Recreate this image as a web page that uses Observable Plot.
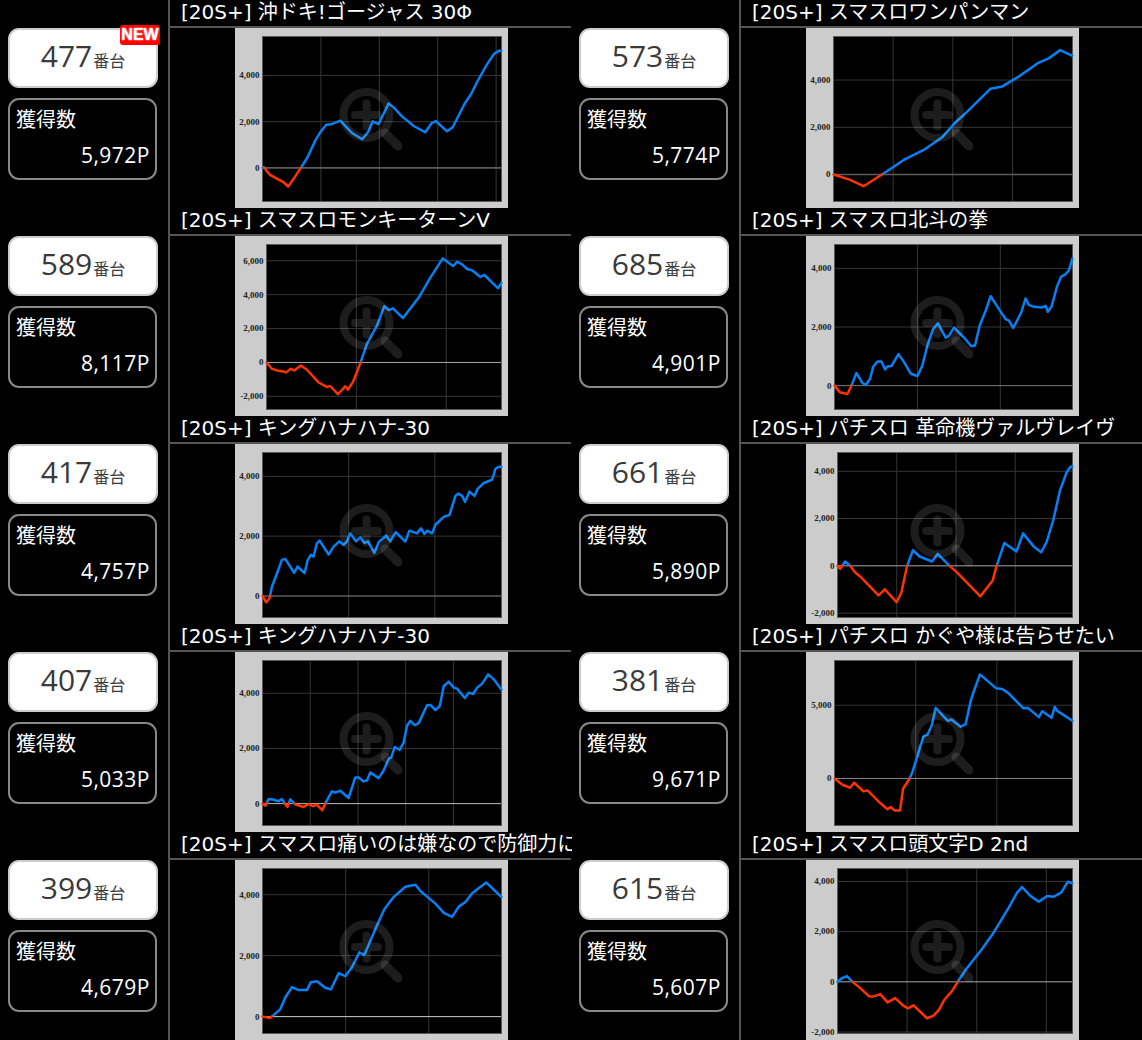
<!DOCTYPE html>
<html lang="ja">
<head>
<meta charset="utf-8">
<script src="https://cdn.jsdelivr.net/npm/d3@7"></script>
<script src="https://cdn.jsdelivr.net/npm/@observablehq/plot@0.6"></script>
<style>
html,body{margin:0;padding:0;background:#000;width:1142px;height:1040px;overflow:hidden;font-family:"Noto Sans CJK JP","Noto Sans",sans-serif;}
#page{position:relative;width:1142px;height:1040px;overflow:hidden;}
.vline{position:absolute;top:0;bottom:0;width:2px;background:#555;}
.hline{position:absolute;height:2px;background:#555;}
.title{position:absolute;line-height:24px;font-family:"DejaVu Sans","Noto Sans CJK JP",sans-serif;font-size:20px;color:#fff;white-space:pre;}
.title.cut{overflow:hidden;height:30px;}
.unit{position:absolute;width:146px;height:56px;background:#fff;border:2px solid #ccc;border-radius:11px;color:#3a3a3a;text-align:center;line-height:51px;font-family:"Open Sans","Noto Sans CJK JP",sans-serif;font-size:30px;white-space:nowrap;}
.unit small{font-family:"Noto Sans CJK JP",sans-serif;font-size:16px;margin-left:1px;}
.score{position:absolute;width:145px;height:78px;background:#000;border:2px solid #888;border-radius:11px;color:#fff;}
.score .lab{position:absolute;left:6px;top:5px;font-size:20px;line-height:28px;}
.score .val{position:absolute;right:5px;top:41px;font-family:"Open Sans",sans-serif;font-size:21px;line-height:28px;letter-spacing:.5px;}
.new{position:absolute;left:120px;top:25px;width:40px;height:20px;background:#f00;border-radius:3px;color:#fff;font:bold 16px/20px "Liberation Sans",sans-serif;text-align:center;text-shadow:0 0 2px #fff;}
.panel{position:absolute;width:273px;height:180px;}
.panel svg.icon{position:absolute;left:0;top:0;pointer-events:none;filter:blur(.6px);}
</style>
</head>
<body>
<div id="page"></div>
<script>
const titles = [
  "[20S+] 沖ドキ!ゴージャス 30Φ","[20S+] スマスロワンパンマン",
  "[20S+] スマスロモンキーターンV","[20S+] スマスロ北斗の拳",
  "[20S+] キングハナハナ-30","[20S+] パチスロ 革命機ヴァルヴレイヴ",
  "[20S+] キングハナハナ-30","[20S+] パチスロ かぐや様は告らせたい",
  "[20S+] スマスロ痛いのは嫌なので防御力に","[20S+] スマスロ頭文字D 2nd"
];
const unitNumbers = [477,573,589,685,417,661,407,381,399,615];
const pointsWon = ["5,972P","5,774P","8,117P","4,901P","4,757P","5,890P","5,033P","9,671P","4,679P","5,607P"];

const games1 = [0,57,149,263,491,720,880,1063,1269,1349,1543,1806,1977,2183,2343,2663,3063,3417,3635,3772,3978,4320,4492,4778,5178,5578,5783,5932,6321,6515,6915,7144,7372,7692,7921,8092,8184];
const values1 = [0,29,-144,-302,-460,-619,-806,-475,-86,72,460,1180,1540,1871,1885,2043,1511,1238,1583,2015,1900,2792,2619,2230,1813,1540,1928,2029,1583,1756,2763,3195,3770,4490,4921,5065,5065];
const games2 = [0,560,1008,1624,1904,2352,3024,3640,4032,4480,5264,5656,6160,6832,7224,7594,8008];
const values2 = [0,-225,-493,0,239,620,1042,1577,2140,2661,3633,3731,4111,4703,4928,5266,5027];
const games3 = [0,119,230,379,431,542,617,765,899,1159,1345,1419,1590,1753,1813,1924,2014,2088,2236,2459,2623,2719,2816,3039,3388,3648,3923,4153,4243,4354,4465,4577,4763,4852,5023,5156,5231];
const values3 = [0,-371,-469,-528,-587,-371,-469,-176,-430,-1173,-1447,-1388,-1877,-1408,-1603,-1153,-567,-39,1095,2170,3324,3089,3187,2620,3832,5005,6139,5689,5943,5787,5513,5435,5044,5161,4712,4379,4692];
const games4 = [0,128,313,393,530,675,755,859,931,1036,1132,1221,1277,1373,1542,1678,1839,2000,2120,2240,2377,2497,2682,2762,2883,3140,3300,3389,3501,3646,3766,3967,4127,4208,4312,4505,4609,4690,4810,5011,5091,5147,5236,5372,5468,5573,5653,5741];
const values4 = [0,-226,-283,-45,429,90,23,237,633,825,825,554,655,667,1074,802,407,328,689,1367,1932,2124,1639,1706,1978,1616,1345,1367,2045,2554,3051,2610,2271,2215,1966,2497,2972,2757,2689,2667,2723,2520,2701,3401,3718,3797,3932,4339];
const games5 = [0,85,163,217,333,450,527,736,814,977,1046,1124,1186,1263,1325,1535,1651,1783,1883,1961,2038,2170,2271,2364,2449,2596,2697,2868,2968,3092,3317,3410,3588,3681,3759,3821,3937,4015,4208,4340,4480,4542,4635,4704,4805,4921,4999,5138,5332,5410,5487,5549];
const values5 = [0,-211,-78,299,742,1208,1241,776,986,765,1186,1374,1319,1762,1850,1385,1651,1828,1706,1828,2094,1828,1961,1773,1828,1440,1795,2017,1828,2138,1817,2183,2094,2260,2072,2183,2094,2382,2648,2704,3346,3424,3346,3147,3490,3346,3590,3778,3889,4255,4321,4321];
const games6 = [0,90,259,428,597,766,1386,1600,1995,2153,2344,2547,2772,3189,3381,3787,4035,4824,5241,5365,5635,6041,6266,6627,6875,7055,7280,7506,7731,7866,7934];
const values6 = [0,-126,182,0,-280,-449,-1248,-995,-1542,-1150,-28,659,393,182,505,0,-280,-1290,-617,-28,967,603,1374,813,575,995,1907,3169,3940,4192,4192];
const games7 = [0,126,252,392,672,811,951,1049,1161,1371,1721,1931,2112,2280,2504,2644,2910,3050,3260,3609,3889,4029,4239,4379,4519,4868,5078,5288,5400,5540,5750,5918,6058,6198,6379,6547,6897,7037,7247,7429,7597,7806,8016,8156,8478,8646,8828,8996,9205,9457,9695,10017];
const values7 = [0,-72,156,156,84,168,-24,-120,156,-24,-120,-12,-96,-36,-240,24,444,396,468,204,949,949,805,841,1129,925,1201,1621,1681,2054,1946,2222,2822,3003,2846,2918,3567,3579,3387,3543,4264,4420,4204,4167,3831,4023,3975,4204,4348,4684,4504,4131];
const games8 = [0,197,385,484,713,812,1099,1304,1386,1484,1615,1689,1837,1919,2189,2288,2394,2493,2698,2796,2878,3108,3231,3354,3436,3583,3985,4133,4297,4649,4764,5035,5117,5346,5428,5486,5863];
const values8 = [0,-430,-633,-294,-882,-814,-1606,-2104,-1945,-2194,-2194,-701,-68,430,2850,2986,3597,4818,4207,3936,4026,3529,3710,5293,5972,7103,6153,6107,5791,4795,4818,4185,4592,4139,4886,4614,3936];
const games9 = [0,185,426,546,707,867,1068,1164,1309,1510,1646,1831,1991,2152,2329,2449,2714,2931,3140,3437,3678,3798,4160,4360,4561,4722,4882,5043,5380,5749];
const values9 = [0,-43,239,620,967,870,870,1130,1163,946,891,1424,1326,1620,2109,2022,2870,3522,3902,4261,4326,4120,3707,3402,3272,3609,3761,4044,4402,3924];
const games10 = [0,125,269,480,652,911,1036,1228,1439,1659,1880,2023,2187,2570,2762,2925,3069,3289,3452,3721,4152,4488,4920,5159,5303,5543,5783,6023,6214,6425,6617,6751];
const values10 = [0,145,224,-53,-251,-581,-581,-488,-818,-647,-937,-1056,-937,-1452,-1346,-1096,-713,-370,0,554,1307,1967,2957,3551,3775,3419,3194,3419,3392,3551,3986,3920];

const gameSeries = [games1,games2,games3,games4,games5,games6,games7,games8,games9,games10];
const valueSeries = [values1,values2,values3,values4,values5,values6,values7,values8,values9,values10];
const xMaxes = [8184,8008,5231,5741,5549,7934,10017,5863,5749,6751];
const yMins = [-1453,-1140,-2776,-814,-720,-2187,-793,-3212,-554,-2059];
const yMaxes = [5684,5843,6960,4814,4798,4795,5188,8053,4859,4514];
const yTickSets = [[0,2000,4000],[0,2000,4000],[-2000,0,2000,4000,6000],[0,2000,4000],[0,2000,4000],[-2000,0,2000,4000],[0,2000,4000],[0,5000],[0,2000,4000],[-2000,0,2000,4000]];
const xGridTicks = [2000,4000,6000,8000];
const leftMargins = [27,27,31,28,27,31,27,28,27,31];
const zeroColours = ["#5c5c5c","#5c5c5c","#aaaaaa","#777777","#5c5c5c","#aaaaaa","#bbbbbb","#888888","#cccccc","#aaaaaa"];
const zeroWidths = [1.6,1.6,1,1,1.6,1,1,1,1,1];

const BLUE = "#0680f2", RED = "#ff3300";

// split a curve where it crosses zero so each run gets its own colour
function runs(games, values) {
  const rows = [];
  let seg = 0;
  games.forEach((g, i) => {
    if (i > 0) {
      const a = values[i - 1], b = values[i];
      if (a * b < 0) {
        const gz = games[i - 1] + (g - games[i - 1]) * (a / (a - b));
        rows.push({g: gz, v: 0, seg, neg: a < 0});
        seg++;
        rows.push({g: gz, v: 0, seg, neg: b < 0});
      }
    }
    const neg = values[i] < 0 || (values[i] === 0 && i + 1 < values.length && values[i + 1] < 0);
    rows.push({g, v: values[i], seg, neg});
    if (values[i] === 0 && i + 1 < values.length && i > 0) {
      const prevNeg = values[i - 1] < 0, nextNeg = values[i + 1] < 0;
      if (prevNeg !== nextNeg) {
        rows[rows.length - 1].neg = prevNeg;
        seg++;
        rows.push({g, v: 0, seg, neg: nextNeg});
      }
    }
  });
  return rows;
}

const tickText = d => d3.format(",")(d).replace("−", "-");

function drawChart(i) {
  const rows = runs(gameSeries[i], valueSeries[i]);
  return Plot.plot({
    width: 273,
    height: 180,
    marginLeft: leftMargins[i],
    marginRight: 7,
    marginTop: 8,
    marginBottom: 7,
    style: {background: "#cccccc", fontFamily: "'Liberation Serif',serif", fontWeight: "bold", color: "#222", overflow: "hidden"},
    x: {axis: null, domain: [0, xMaxes[i]]},
    y: {domain: [yMins[i], yMaxes[i]]},
    marks: [
      Plot.frame({fill: "#000", stroke: "none"}),
      Plot.gridX(xGridTicks.filter(t => t < xMaxes[i] - 20), {stroke: "#363636", strokeOpacity: 1}),
      Plot.gridY(yTickSets[i].filter(t => t !== 0), {stroke: "#363636", strokeOpacity: 1}),
      Plot.ruleY([0], {stroke: zeroColours[i], strokeWidth: zeroWidths[i]}),
      Plot.frame({stroke: "#5a5a5a", strokeWidth: 1}),
      Plot.axisY(yTickSets[i], {tickSize: 0, tickPadding: 3, fontSize: 9, tickFormat: tickText, label: null, fill: "#222"}),
      Plot.line(rows.filter(d => !d.neg), {x: "g", y: "v", z: "seg", stroke: BLUE, strokeWidth: 2.5}),
      Plot.line(rows.filter(d => d.neg), {x: "g", y: "v", z: "seg", stroke: RED, strokeWidth: 2.5})
    ]
  });
}

const page = document.getElementById("page");
function el(cls, css, html) {
  const d = document.createElement("div");
  d.className = cls;
  Object.assign(d.style, css);
  if (html !== undefined) d.innerHTML = html;
  page.appendChild(d);
  return d;
}

el("vline", {left: "168px"});
el("vline", {left: "739px"});

const magnifier = `<svg class="icon" width="273" height="180" viewBox="0 0 273 180">
<g fill="none" stroke="rgba(255,255,255,0.115)" stroke-width="8" stroke-linecap="round">
<circle cx="131.5" cy="87" r="23"/>
<path d="M120 87H143M131.5 75.5V98.5"/>
<path d="M150 105L163 118" stroke-width="9"/>
</g></svg>`;

titles.forEach((t, i) => {
  const col = i % 2, row = (i - col) / 2;
  const dx = col * 571, dy = row * 208;
  const tt = el(i === 8 ? "title cut" : "title", {left: (181 + dx) + "px", top: dy + "px"});
  if (i === 8) tt.style.width = "391px";
  tt.textContent = t;
  el("hline", {left: (169 + dx) + "px", top: (26 + dy) + "px", width: "402px"});
  const u = el("unit", {left: (8 + dx) + "px", top: (28 + dy) + "px"});
  u.innerHTML = `${unitNumbers[i]}<small>番台</small>`;
  el("score", {left: (8 + dx) + "px", top: (98 + dy) + "px"},
     `<div class="lab">獲得数</div><div class="val">${pointsWon[i]}</div>`);
  if (i === 0) el("new", {}, "NEW");
  const p = el("panel", {left: (235 + dx) + "px", top: (28 + dy) + "px"});
  p.appendChild(drawChart(i));
  p.insertAdjacentHTML("beforeend", magnifier);
});
</script>
</body>
</html>
